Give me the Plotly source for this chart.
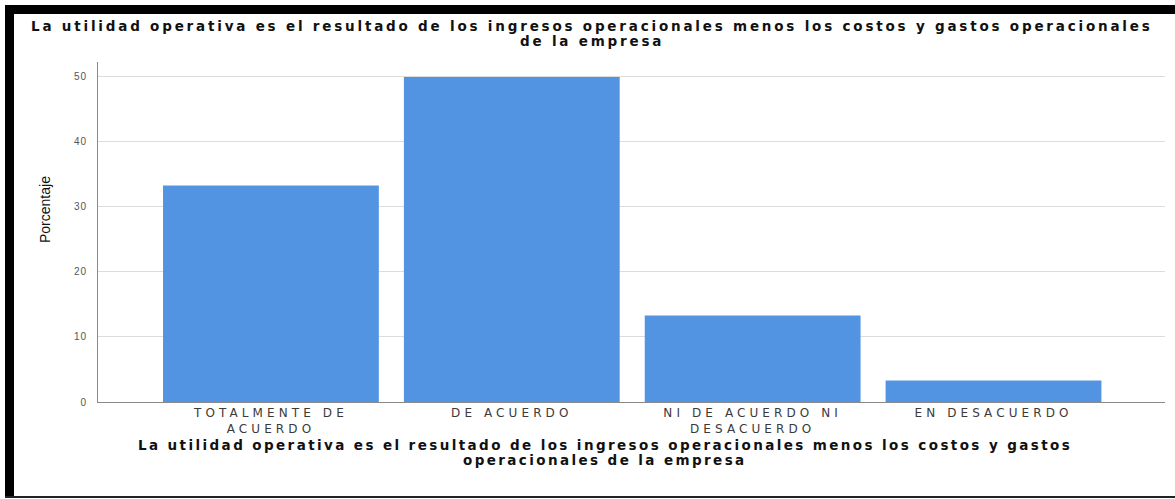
import plotly.graph_objects as go

categories = ["TOTALMENTE DE<br>ACUERDO", "DE ACUERDO", "NI DE ACUERDO NI<br>DESACUERDO", "EN DESACUERDO"]
porcentaje = [33.3, 50.0, 13.3, 3.3]
y_ticks = [0, 10, 20, 30, 40, 50]

title_lines = ["La utilidad operativa es el resultado de los ingresos operacionales menos los costos y gastos operacionales",
               "de la empresa"]
xtitle_lines = ["La utilidad operativa es el resultado de los ingresos operacionales menos los costos y gastos",
                "operacionales de la empresa"]
ytitle = "Porcentaje"

W, H = 1175, 499
L, R, T, B = 98, 10, 62, 97
PW, PH = W - L - R, H - T - B


def px(x):
    return (x - L) / PW


def py(y):
    return (H - B - y) / PH


def spaced(t, s):
    return f'<span style="letter-spacing:{s}px">{t}</span>'


def spaced_lines(t, s):
    return "<br>".join(spaced(p, s) for p in t.split("<br>"))


xs = list(range(len(categories)))
fig = go.Figure()
fig.add_trace(go.Bar(x=xs, y=porcentaje, marker=dict(color="#5394e2", line=dict(width=0)),
                     hoverinfo="skip"))

fig.update_layout(
    width=W, height=H, margin=dict(l=L, r=R, t=T, b=B),
    paper_bgcolor="white", plot_bgcolor="white", showlegend=False, bargap=0.104,
    font=dict(family="Liberation Sans, Arial, sans-serif", color="#333"),
)
fig.update_xaxes(range=[-0.718, 3.712], tickmode="array", tickvals=xs,
                 ticktext=[spaced_lines(c, 4.1) for c in categories],
                 tickfont=dict(size=12, color="#3a3a3a", family="DejaVu Sans, sans-serif"),
                 showline=True, linecolor="#8a8a8a",
                 linewidth=1, ticks="", showgrid=False, zeroline=False, fixedrange=True)
fig.update_yaxes(range=[0, 52.3], tickvals=y_ticks, ticktext=[spaced(str(v), 1) for v in y_ticks],
                 tickfont=dict(size=10, color="#555"), showline=True, linecolor="#8a8a8a",
                 linewidth=1, ticks="", ticklabelstandoff=8, showgrid=True, gridcolor="#dcdcdc",
                 gridwidth=1, zeroline=False, fixedrange=True)

TF = "DejaVu Sans, sans-serif"
ann = []
for i, t in enumerate(title_lines):
    ann.append(dict(text="<b>" + spaced(t, 2.8) + "</b>", x=px(592), y=py(26 + 15 * i), xref="paper", yref="paper",
                    xanchor="center", yanchor="middle", showarrow=False,
                    font=dict(size=13.5, color="#111", family=TF)))
for i, t in enumerate(xtitle_lines):
    ann.append(dict(text="<b>" + spaced(t, 2.4) + "</b>", x=px(605), y=py(445 + 15 * i), xref="paper", yref="paper",
                    xanchor="center", yanchor="middle", showarrow=False,
                    font=dict(size=13.5, color="#111", family=TF)))
ann.append(dict(text=ytitle, x=px(45), y=py(210), xref="paper", yref="paper", textangle=-90,
                xanchor="center", yanchor="middle", showarrow=False,
                font=dict(size=14, color="#111", family="Liberation Sans Narrow, Liberation Sans, sans-serif")))
fig.update_layout(annotations=ann)

shapes = [
    dict(type="rect", x0=px(5), x1=px(1175), y0=py(14), y1=py(5), fillcolor="black", line=dict(width=0)),
    dict(type="rect", x0=px(5), x1=px(14), y0=py(498), y1=py(5), fillcolor="black", line=dict(width=0)),
    dict(type="rect", x0=px(5), x1=px(1175), y0=py(498), y1=py(496), fillcolor="#222", line=dict(width=0)),
]
for s in shapes:
    s.update(xref="paper", yref="paper", layer="above")
fig.update_layout(shapes=shapes)

fig.write_html("out.html", config={"displayModeBar": False},
               post_script="document.body.style.margin='0';document.body.style.overflow='hidden';")
